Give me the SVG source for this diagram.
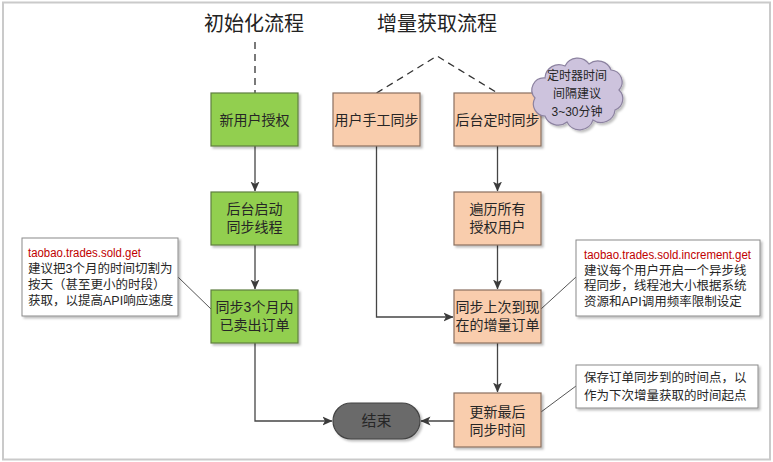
<svg xmlns="http://www.w3.org/2000/svg" width="773" height="462" viewBox="0 0 773 462">
<defs>
<style>
.t{font-family:"Liberation Sans","Noto Sans CJK SC",sans-serif;fill:#262626;}
.title{font-size:20px;text-anchor:middle;font-family:"Noto Sans CJK SC",sans-serif;fill:#222;}
.nt{font-size:14px;text-anchor:middle;}
.note{font-size:12.5px;}
.red{fill:#c00000;}
.g{fill:#92cf50;stroke:#5f7f3f;stroke-width:1.2;}
.o{fill:#f9cdad;stroke:#8a7060;stroke-width:1.2;}
.nb{fill:#fff;stroke:#8a8a8a;stroke-width:1;}
.c{fill:none;stroke:#454545;stroke-width:1.3;}
.cn{fill:none;stroke:#555;stroke-width:1;}
.d{fill:none;stroke:#333;stroke-width:1.3;stroke-dasharray:7,5;}
</style>
<marker id="ah" markerWidth="10" markerHeight="10" viewBox="0 0 10 10" refX="9.5" refY="5" orient="auto" markerUnits="userSpaceOnUse">
<path d="M0,0.5 L10,5 L0,9.5 L2.5,5 Z" fill="#3c3c3c"/>
</marker>
<filter id="sh" x="-10%" y="-10%" width="130%" height="130%">
<feDropShadow dx="2" dy="2" stdDeviation="1" flood-color="#000" flood-opacity="0.25"/>
</filter>
</defs>
<rect x="3" y="2.5" width="767" height="457" fill="#fff" stroke="#cacaca" stroke-width="2"/>

<text class="title" x="254" y="31">初始化流程</text>
<text class="title" x="437" y="31">增量获取流程</text>

<g id="connectors">
<path class="d" d="M255,42 V93"/>
<path class="d" d="M376.5,93 L437,56 L497.5,93"/>
<path class="c" d="M255,146 V191" marker-end="url(#ah)"/>
<path class="c" d="M255,245 V289" marker-end="url(#ah)"/>
<path class="c" d="M255,343 V421 H332" marker-end="url(#ah)"/>
<path class="c" d="M376.5,146 V317 H453" marker-end="url(#ah)"/>
<path class="c" d="M497.5,146 V191" marker-end="url(#ah)"/>
<path class="c" d="M497.5,245 V289" marker-end="url(#ah)"/>
<path class="c" d="M497.5,343 V392" marker-end="url(#ah)"/>
<path class="c" d="M454,421 H421" marker-end="url(#ah)"/>
<path class="cn" d="M178,277 L211,309"/>
<path class="cn" d="M576,277 L541,309"/>
<path class="cn" d="M576,386 L541,412"/>
</g>

<g id="n1"><rect class="g" x="211" y="93" width="87" height="53" filter="url(#sh)"/>
<text class="t nt" x="254.5" y="124.5">新用户授权</text></g>
<g id="n2"><rect class="g" x="211" y="192" width="87" height="53" filter="url(#sh)"/>
<text class="t nt" x="254.5" y="214">后台启动</text><text class="t nt" x="254.5" y="232">同步线程</text></g>
<g id="n3"><rect class="g" x="211" y="290" width="87" height="53" filter="url(#sh)"/>
<text class="t nt" x="254.5" y="312">同步3个月内</text><text class="t nt" x="254.5" y="330">已卖出订单</text></g>
<g id="n4"><rect class="o" x="333" y="93" width="87" height="53" filter="url(#sh)"/>
<text class="t nt" x="376.5" y="124.5">用户手工同步</text></g>
<g id="n5"><rect class="o" x="454" y="93" width="87" height="53" filter="url(#sh)"/>
<text class="t nt" x="497.5" y="124.5">后台定时同步</text></g>
<g id="n6"><rect class="o" x="454" y="192" width="87" height="53" filter="url(#sh)"/>
<text class="t nt" x="497.5" y="214">遍历所有</text><text class="t nt" x="497.5" y="232">授权用户</text></g>
<g id="n7"><rect class="o" x="454" y="290" width="87" height="53" filter="url(#sh)"/>
<text class="t nt" x="497.5" y="312">同步上次到现</text><text class="t nt" x="497.5" y="330">在的增量订单</text></g>
<g id="n8"><rect class="o" x="454" y="393" width="87" height="54" filter="url(#sh)"/>
<text class="t nt" x="497.5" y="417">更新最后</text><text class="t nt" x="497.5" y="435">同步时间</text></g>
<g id="end"><rect x="333" y="403" width="87" height="36" rx="18" ry="18" fill="#6b6b6b" stroke="#444" stroke-width="1.2" filter="url(#sh)"/>
<text class="t" x="376.5" y="426" font-size="15" text-anchor="middle" fill="#1a1a1a">结束</text></g>

<g id="cloud">
<path d="M545,78 A14,14 0 0 1 565,66 A14,14 0 0 1 589,64 A14,14 0 0 1 611,70 A12,12 0 0 1 619,90 A12,12 0 0 1 615,110 A14,14 0 0 1 593,120 A14,14 0 0 1 567,122 A14,14 0 0 1 545,116 A12,12 0 0 1 535,98 A12,12 0 0 1 545,78 Z" fill="#cdc3dd" stroke="#8c82a0" stroke-width="1.2" filter="url(#sh)"/>
<text class="t" x="577" y="80" font-size="12" text-anchor="middle">定时器时间</text>
<text class="t" x="577" y="98" font-size="12" text-anchor="middle">间隔建议</text>
<text class="t" x="577" y="116" font-size="12" text-anchor="middle">3~30分钟</text>
</g>

<g id="note1"><rect class="nb" x="22" y="238" width="156" height="78" filter="url(#sh)"/>
<text class="t note red" x="28" y="257" textLength="113" lengthAdjust="spacingAndGlyphs">taobao.trades.sold.get</text>
<text class="t note" x="28" y="273">建议把3个月的时间切割为</text>
<text class="t note" x="28" y="289">按天（甚至更小的时段）</text>
<text class="t note" x="28" y="305">获取，以提高API响应速度</text></g>

<g id="note2"><rect class="nb" x="576" y="240" width="184" height="76" filter="url(#sh)"/>
<text class="t note red" x="584" y="259" textLength="167" lengthAdjust="spacingAndGlyphs">taobao.trades.sold.increment.get</text>
<text class="t note" x="584" y="274.5">建议每个用户开启一个异步线</text>
<text class="t note" x="584" y="290">程同步，线程池大小根据系统</text>
<text class="t note" x="584" y="305.5">资源和API调用频率限制设定</text></g>

<g id="note3"><rect class="nb" x="576" y="365" width="182" height="43" filter="url(#sh)"/>
<text class="t note" x="584" y="382">保存订单同步到的时间点，以</text>
<text class="t note" x="584" y="399.5">作为下次增量获取的时间起点</text></g>
</svg>
